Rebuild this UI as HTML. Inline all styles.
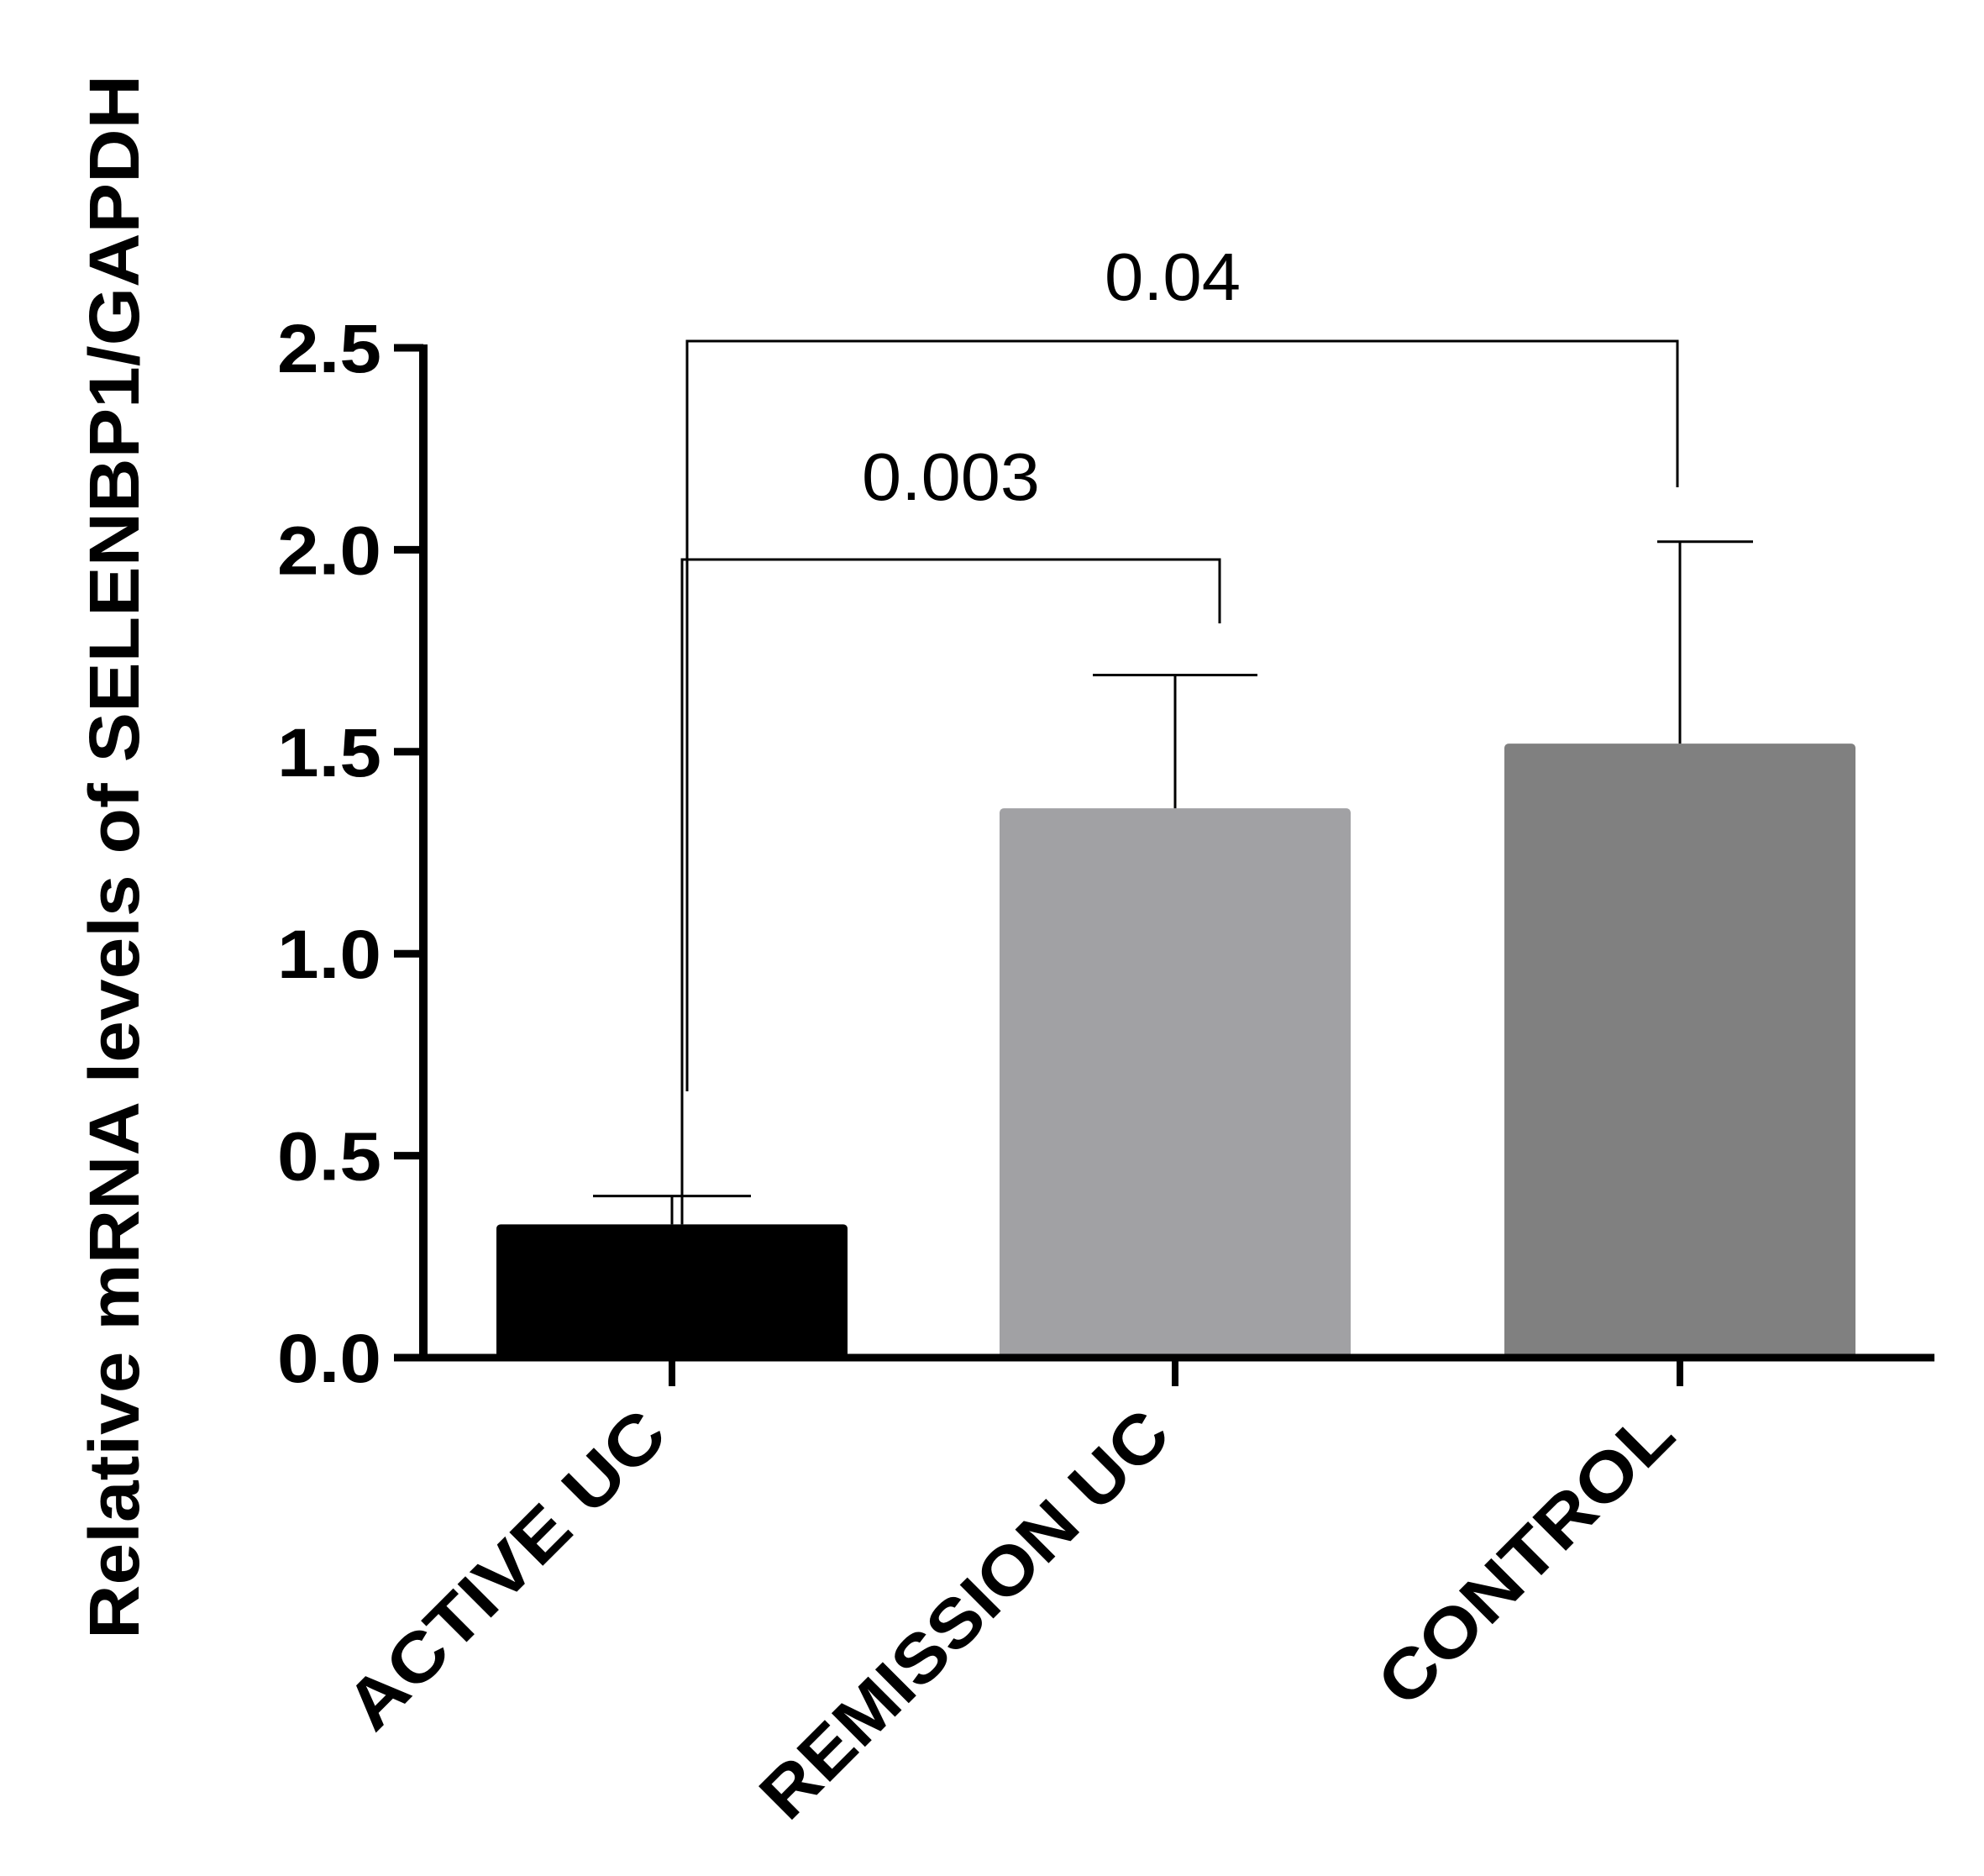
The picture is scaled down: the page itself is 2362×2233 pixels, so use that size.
<!DOCTYPE html>
<html><head><meta charset="utf-8"><style>
html,body{margin:0;padding:0;background:#fff;}
svg{display:block;}
</style></head><body>
<svg id="chart" width="2362" height="2233" viewBox="0 0 2362 2233" xmlns="http://www.w3.org/2000/svg" font-family="'Liberation Sans', Arial, sans-serif"></svg>
<script>
const categories = ["ACTIVE UC", "REMISSION UC", "CONTROL"];
const means = [0.33, 1.36, 1.52];
const errors = [0.07, 0.33, 0.50];
const colors = ["#000000", "#a1a1a4", "#808080"];
const yTicks = [0, 0.5, 1.0, 1.5, 2.0, 2.5];
const yTickLabels = ["0.0", "0.5", "1.0", "1.5", "2.0", "2.5"];
const compLabels = ["0.003", "0.04"];

const NS = "http://www.w3.org/2000/svg";
const svg = document.getElementById("chart");
const y0 = 1616, yTop = 414, x0 = 504, xEnd = 2303;
function y(v){ return y0 - v * (y0 - yTop) / 2.5; }
const centers = [800, 1399, 2000];
const labelLens = [498, 648, 458];
const barW = 418;
function xc(i){ return centers[i]; }
function el(tag, attrs, parent){
  const e = document.createElementNS(NS, tag);
  for (const k in attrs) e.setAttribute(k, attrs[k]);
  (parent || svg).appendChild(e);
  return e;
}

categories.forEach((c, i) => {
  const r = el("rect", {x: xc(i) - barW/2, y: y(means[i]), width: barW, height: y0 - y(means[i]), fill: colors[i], rx: 5});
  
  
  const capW = i === 2 ? 114 : (i === 1 ? 196 : 188);
  const off = i === 2 ? 30 : 0;
  const eb = el("path", {d: `M${xc(i)},${y(means[i])} V${y(means[i]+errors[i])} M${xc(i)-capW/2+off},${y(means[i]+errors[i])} H${xc(i)+capW/2+off}`, stroke: "#000", "stroke-width": 3, fill: "none"});
  
  
});

const ya = el("line", {x1: x0, y1: yTop - 4, x2: x0, y2: y0 + 4, stroke: "#000", "stroke-width": 10});


const xa = el("line", {x1: 469, y1: y0, x2: xEnd, y2: y0, stroke: "#000", "stroke-width": 9});



yTicks.forEach((t, i) => {
  const tk = el("line", {x1: 469, y1: y(t), x2: x0, y2: y(t), stroke: "#000", "stroke-width": 9});
  
  
  const lb = el("text", {x: 454, y: y(t) + 29, "text-anchor": "end", "font-size": 82, "font-weight": "bold", textLength: 124, lengthAdjust: "spacingAndGlyphs"});
  lb.textContent = yTickLabels[i];
  
  
});

categories.forEach((c, i) => {
  const tk = el("line", {x1: xc(i), y1: y0, x2: xc(i), y2: 1650, stroke: "#000", "stroke-width": 8});
  
  
  const ax = xc(i) - 2, ay = 1712;
  const lb = el("text", {x: ax, y: ay, "text-anchor": "end", "font-size": 82, "font-weight": "bold", textLength: labelLens[i], lengthAdjust: "spacingAndGlyphs", transform: `rotate(-45 ${ax} ${ay})`});
  lb.textContent = c;
  
  
});

const yt = el("text", {x: 0, y: 0, "text-anchor": "middle", "font-size": 84, "font-weight": "bold", transform: "translate(165 1020) rotate(-90)", textLength: 1862, lengthAdjust: "spacingAndGlyphs"});
yt.textContent = "Relative mRNA levels of SELENBP1/GAPDH";



const b1 = el("path", {d: `M812,${y(means[0])} V666 H1452 V742`, stroke: "#000", "stroke-width": 3, fill: "none"});


const t1 = el("text", {x: 1132, y: 595, "text-anchor": "middle", "font-size": 80, textLength: 212, lengthAdjust: "spacingAndGlyphs"});
t1.textContent = compLabels[0];


const b2 = el("path", {d: "M818,1299 V406 H1997 V580", stroke: "#000", "stroke-width": 3, fill: "none"});


const t2 = el("text", {x: 1396, y: 357, "text-anchor": "middle", "font-size": 80, textLength: 162, lengthAdjust: "spacingAndGlyphs"});
t2.textContent = compLabels[1];


</script>
</body></html>
